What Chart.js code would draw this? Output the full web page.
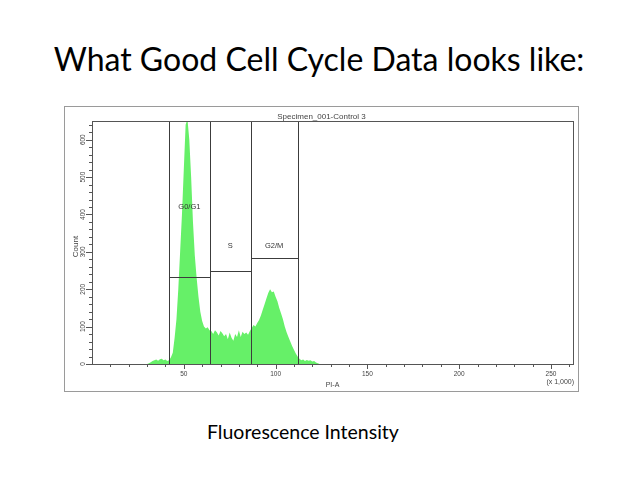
<!DOCTYPE html>
<html>
<head>
<meta charset="utf-8">
<title>What Good Cell Cycle Data looks like</title>
<script src="https://cdn.jsdelivr.net/npm/chart.js@4.4.1/dist/chart.umd.min.js"></script>
<style>
  body { margin: 0; width: 638px; height: 479px; background: #fff; position: relative; overflow: hidden; }
  .slide-title { position: absolute; left: 0; top: 43px; width: 638px; text-align: center;
    font-family: Lato, "Open Sans", sans-serif; font-size: 32px; line-height: 32px; color: #000; }
  .frame { position: absolute; left: 64px; top: 106px; width: 513px; height: 284px; border: 1px solid #9a9a9a; }
  .frame canvas { display: block; }
  .caption { position: absolute; left: 207px; top: 422px;
    font-family: Lato, "Open Sans", sans-serif; font-size: 19.5px; line-height: 19.5px; color: #000; }
</style>
</head>
<body>
<div class="slide-title">What Good Cell Cycle Data looks like:</div>
<div class="frame"><canvas id="cellCycle" width="513" height="284"></canvas></div>
<div class="caption">Fluorescence Intensity</div>

<script>
// PI-A intensity (x 1,000) and cell counts
const intensity = [30, 31, 32, 33, 34, 35, 36, 37, 38, 39, 40, 41, 42, 43,
  44, 45, 46, 47, 48, 49, 50, 51, 52, 53, 54, 55, 56, 57, 58, 59, 60, 61, 62,
  63, 64, 65, 66, 67, 68, 69, 70, 71, 72, 73, 74, 75, 76, 77, 78, 79, 80, 81, 82, 83, 84, 85, 86,
  87, 88, 89, 90, 91, 92, 93, 94, 95, 96, 97, 98, 99, 100, 101, 102, 103, 104, 105, 106,
  107, 108, 109, 110, 111, 112, 113, 114, 115, 116, 117, 118, 119, 120, 121, 122, 123, 124];
const counts = [0, 2, 5, 8, 10, 12, 9, 13, 14, 10, 12, 8, 10, 18,
  30, 70, 120, 200, 300, 400, 520, 640, 655, 600, 500, 380, 290, 230, 180, 140, 115, 100, 95,
  98, 90, 88, 80, 90, 85, 76, 88, 82, 74, 80, 66, 84, 70, 62, 80, 72, 90, 72, 86, 80, 84, 78, 88,
  96, 104, 100, 110, 118, 130, 145, 160, 175, 190, 200, 192, 194, 180, 168, 150, 135, 120, 100, 85,
  72, 60, 48, 38, 28, 20, 14, 10, 12, 8, 11, 9, 10, 7, 8, 4, 2, 0];

// gates
const gateNames = ['G0/G1', 'S', 'G2/M'];
const gateStarts = [41.8, 64.3, 86.4];
const gateEnds = [64.3, 86.4, 112];
const gateLevels = [232, 250, 284];
const gateLabelLevels = [420, 316, 316];

// axes
const xTicks = [10, 20, 30, 40, 50, 60, 70, 80, 90, 100, 110, 120, 130, 140, 150, 160, 170, 180,
  190, 200, 210, 220, 230, 240, 250, 260];
const xLabels = [50, 100, 150, 200, 250];
const yTicks = [0, 20, 40, 60, 80, 100, 120, 140, 160, 180, 200, 220, 240, 260, 280, 300, 320, 340,
  360, 380, 400, 420, 440, 460, 480, 500, 520, 540, 560, 580, 600, 620, 640];
const yLabels = [0, 100, 200, 300, 400, 500, 600];
const xMax = 262;
const yMax = 650;

// Axes, gates and labels drawn like the cytometer export
const cytoInk = {
    id: 'cytoInk',
    afterDatasetsDraw(chart) {
        const ctx = chart.ctx;
        const a = chart.chartArea;
        const x = chart.scales.x;
        const y = chart.scales.y;
        const sharp = (v) => Math.round(v) + 0.5;
        ctx.save();

        // gate markers
        ctx.strokeStyle = '#3c3c3c';
        ctx.lineWidth = 1;
        ctx.beginPath();
        gateNames.forEach((name, i) => {
            const x0 = sharp(x.getPixelForValue(gateStarts[i]));
            const x1 = sharp(x.getPixelForValue(gateEnds[i]));
            const yl = sharp(y.getPixelForValue(gateLevels[i]));
            ctx.moveTo(x0, a.top); ctx.lineTo(x0, a.bottom);
            ctx.moveTo(x1, a.top); ctx.lineTo(x1, a.bottom);
            ctx.moveTo(x0, yl); ctx.lineTo(x1, yl);
        });
        ctx.stroke();

        ctx.fillStyle = '#333';
        ctx.font = '7.5px "Liberation Sans", Arial, sans-serif';
        ctx.textAlign = 'center';
        ctx.textBaseline = 'middle';
        gateNames.forEach((name, i) => {
            const cx = x.getPixelForValue((gateStarts[i] + gateEnds[i]) / 2);
            ctx.fillText(name, cx, y.getPixelForValue(gateLabelLevels[i]));
        });

        // plot box
        ctx.strokeStyle = '#555';
        ctx.strokeRect(sharp(a.left), sharp(a.top), Math.round(a.right - a.left), Math.round(a.bottom - a.top));

        // tick marks
        ctx.beginPath();
        xTicks.forEach(v => {
            const px = sharp(x.getPixelForValue(v));
            ctx.moveTo(px, a.bottom);
            ctx.lineTo(px, a.bottom + (xLabels.includes(v) ? 5 : 3));
        });
        yTicks.forEach(v => {
            const py = sharp(y.getPixelForValue(v));
            ctx.moveTo(a.left, py);
            ctx.lineTo(a.left - (yLabels.includes(v) ? 6 : 3), py);
        });
        ctx.stroke();

        // tick labels
        ctx.fillStyle = '#444';
        ctx.font = '6.5px "Liberation Sans", Arial, sans-serif';
        xLabels.forEach(v => {
            ctx.fillText(String(v), x.getPixelForValue(v), a.bottom + 10);
        });
        yLabels.forEach(v => {
            ctx.save();
            ctx.translate(a.left - 9, y.getPixelForValue(v));
            ctx.rotate(-Math.PI / 2);
            ctx.fillText(String(v), 0, 0);
            ctx.restore();
        });

        // titles
        ctx.font = '7px "Liberation Sans", Arial, sans-serif';
        ctx.fillText('PI-A', (a.left + a.right) / 2, a.bottom + 21);
        ctx.textAlign = 'right';
        ctx.fillText('(x 1,000)', a.right + 1, a.bottom + 18);

        ctx.textAlign = 'center';
        ctx.font = '8px "Liberation Sans", Arial, sans-serif';
        ctx.fillText('Specimen_001-Control 3', chart.width / 2, a.top - 4);
        ctx.save();
        ctx.translate(a.left - 16, (a.top + a.bottom) / 2 + 4);
        ctx.rotate(-Math.PI / 2);
        ctx.fillText('Count', 0, 0);
        ctx.restore();

        ctx.restore();
    }
};

document.addEventListener('DOMContentLoaded', function() {
    const ctx = document.getElementById('cellCycle').getContext('2d');
    new Chart(ctx, {
        type: 'line',
        data: {
            datasets: [{
                label: 'PI-A',
                data: intensity.map((v, i) => ({ x: v, y: counts[i] })),
                backgroundColor: 'rgb(102, 240, 104)',
                borderWidth: 0,
                pointRadius: 0,
                fill: 'origin',
                tension: 0
            }]
        },
        options: {
            responsive: false,
            animation: false,
            layout: {
                padding: { left: 27, right: 5, top: 14, bottom: 27 }
            },
            plugins: {
                legend: { display: false },
                tooltip: { enabled: false }
            },
            scales: {
                x: { type: 'linear', min: 0, max: xMax, display: false },
                y: { type: 'linear', min: 0, max: yMax, display: false }
            }
        },
        plugins: [cytoInk]
    });
});
</script>
</body>
</html>
